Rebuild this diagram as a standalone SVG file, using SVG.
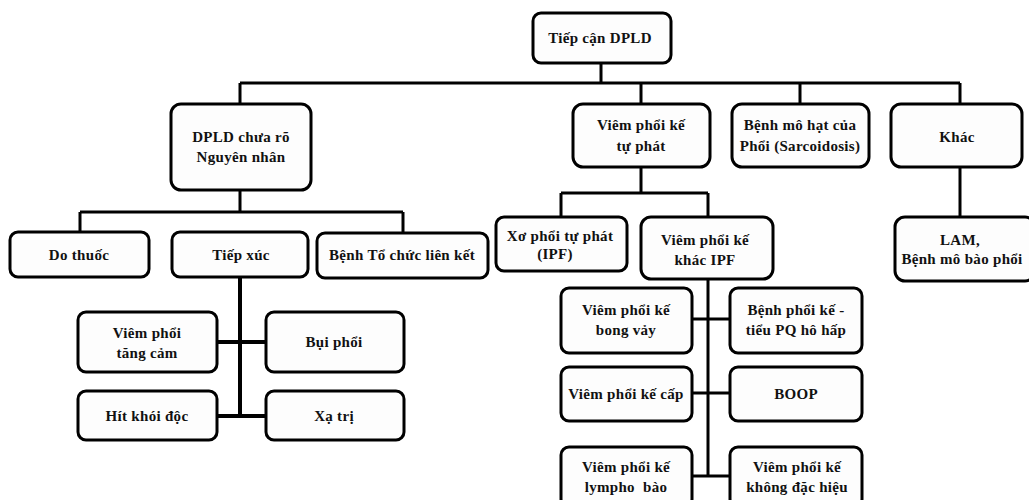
<svg xmlns="http://www.w3.org/2000/svg" width="1029" height="500" viewBox="0 0 1029 500">
<style>
.b{fill:#fdfdfd;stroke:#000;stroke-width:3}
.t{font-family:'Liberation Serif','DejaVu Serif',serif;font-weight:bold;font-size:15px;letter-spacing:0.3px;fill:#111;text-anchor:middle}
.c{fill:none;stroke:#000;stroke-width:3}
</style>
<rect width="1029" height="500" fill="#fff"/>
<g id="connectors">
<path class="c" d="M601 63V83M240 83H960M240 83V104M641 83V104M800 83V104M960 83V104"/>
<path class="c" d="M240 190V212M80 212H403M80 212V232M403 212V233"/>
<path class="c" d="M240 277V416M217 342H266M217 416H266" style="stroke-width:4"/>
<path class="c" d="M641 167V193M561 193H708M561 193V217M708 193V217"/>
<path class="c" d="M708 279V476M692 319H730M692 393H730M692 476H730"/>
<path class="c" d="M960 167V217"/>
</g>
<g font-family="Liberation Serif, serif">
<g id="n-root"><rect class="b" x="533" y="13" width="138" height="50" rx="8"/><text class="t" x="600" y="43">Tiếp cận DPLD</text></g>
<g id="n-dpld"><rect class="b" x="171" y="104" width="140" height="86" rx="10"/><text class="t" x="241" y="142">DPLD chưa rõ</text><text class="t" x="241" y="162">Nguyên nhân</text></g>
<g id="n-vpktp"><rect class="b" x="573" y="104" width="137" height="63" rx="10"/><text class="t" x="641" y="130">Viêm phổi kế</text><text class="t" x="641" y="151">tự phát</text></g>
<g id="n-sarc"><rect class="b" x="732" y="104" width="137" height="63" rx="10"/><text class="t" x="800" y="130">Bệnh mô hạt của</text><text class="t" x="800" y="151">Phổi (Sarcoidosis)</text></g>
<g id="n-khac"><rect class="b" x="891" y="104" width="131" height="63" rx="10"/><text class="t" x="957" y="142">Khác</text></g>
<g id="n-dothuoc"><rect class="b" x="10" y="232" width="139" height="45" rx="8"/><text class="t" x="79" y="260">Do thuốc</text></g>
<g id="n-tiepxuc"><rect class="b" x="172" y="232" width="136" height="45" rx="8"/><text class="t" x="241" y="260">Tiếp xúc</text></g>
<g id="n-btclk"><rect class="b" x="317" y="233" width="171" height="45" rx="8"/><text class="t" x="402" y="260">Bệnh Tổ chức liên kết</text></g>
<g id="n-ipf"><rect class="b" x="496" y="217" width="131" height="54" rx="8"/><text class="t" x="560" y="241">Xơ phổi tự phát</text><text class="t" x="555" y="259">(IPF)</text></g>
<g id="n-khacipf"><rect class="b" x="641" y="217" width="132" height="62" rx="10"/><text class="t" x="705" y="245">Viêm phổi kế</text><text class="t" x="705" y="265">khác IPF</text></g>
<g id="n-lam"><rect class="b" x="895" y="217" width="140" height="64" rx="10"/><text class="t" x="960" y="245">LAM,</text><text class="t" x="962" y="264">Bệnh mô bào phổi</text></g>
<g id="n-tangcam"><rect class="b" x="78" y="312" width="139" height="60" rx="8"/><text class="t" x="147" y="338">Viêm phổi</text><text class="t" x="147" y="358">tăng cảm</text></g>
<g id="n-buiphoi"><rect class="b" x="266" y="312" width="138" height="60" rx="8"/><text class="t" x="334" y="347">Bụi phổi</text></g>
<g id="n-hitkhoi"><rect class="b" x="78" y="391" width="139" height="49" rx="8"/><text class="t" x="147" y="421">Hít khói độc</text></g>
<g id="n-xatri"><rect class="b" x="266" y="391" width="138" height="49" rx="8"/><text class="t" x="334" y="421">Xạ trị</text></g>
<g id="n-bongvay"><rect class="b" x="561" y="288" width="131" height="65" rx="8"/><text class="t" x="626" y="315">Viêm phổi kế</text><text class="t" x="626" y="335">bong vảy</text></g>
<g id="n-tieupq"><rect class="b" x="730" y="288" width="132" height="65" rx="8"/><text class="t" x="796" y="315">Bệnh phổi kế -</text><text class="t" x="796" y="335">tiểu PQ hô hấp</text></g>
<g id="n-cap"><rect class="b" x="561" y="367" width="131" height="54" rx="8"/><text class="t" x="626" y="399">Viêm phổi kế cấp</text></g>
<g id="n-boop"><rect class="b" x="730" y="367" width="132" height="54" rx="8"/><text class="t" x="796" y="399">BOOP</text></g>
<g id="n-lympho"><rect class="b" x="561" y="447" width="131" height="60" rx="8"/><text class="t" x="626" y="472">Viêm phổi kế</text><text class="t" x="626" y="492" style="white-space:pre">lympho  bào</text></g>
<g id="n-nsip"><rect class="b" x="730" y="447" width="132" height="60" rx="8"/><text class="t" x="797" y="472">Viêm phổi kế</text><text class="t" x="797" y="492">không đặc hiệu</text></g>
</g>
</svg>
